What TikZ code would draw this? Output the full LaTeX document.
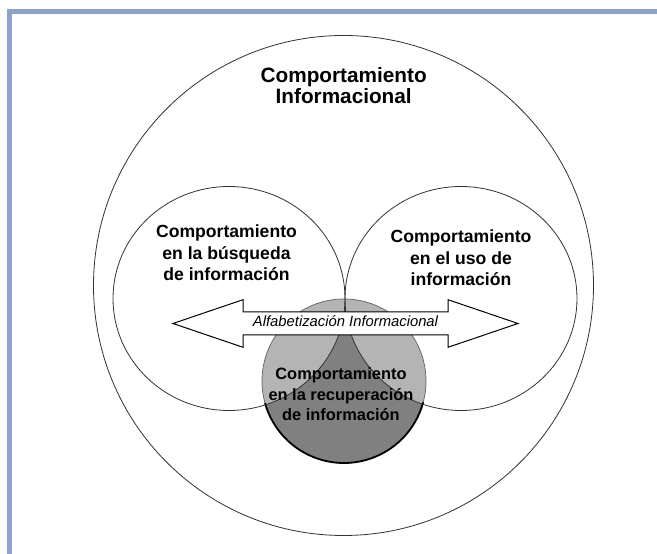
\documentclass[tikz,border=0pt]{standalone}
\usepackage{fontspec}
\setmainfont{Liberation Sans}
\definecolor{frameblue}{HTML}{8FA3C8}
\definecolor{lightgr}{HTML}{B4B4B4}
\definecolor{darkgr}{HTML}{808080}
\begin{document}
\begin{tikzpicture}[x=1pt,y=1pt,
  outline/.style={draw=black!80, line width=0.8pt},
  lbl/.style={align=center, inner sep=0pt, text=black}]
\useasboundingbox (0,0) rectangle (657,554);
\fill[white] (0,0) rectangle (657,554);
% frame
\fill[frameblue] (6.7,0) rectangle (11.7,545);
\fill[frameblue] (6.7,540) rectangle (657,545);
% outer circle
\draw[outline] (343.5,268.5) circle (250);
% recovery circle
\fill[darkgr] (344,173) circle (82);
\begin{scope}
  \clip (344,173) circle (82);
  \fill[lightgr] (229,255.5) ellipse (116 and 112);
  \fill[lightgr] (461,255.5) ellipse (116 and 112);
\end{scope}
\draw[draw=black!60, line width=0.7pt] (344,173) circle (82);
\draw[black, line width=1.8pt] (344,173) ++(195.6:82) arc (195.6:345:82);
% search and use circles
\draw[outline] (229,255.5) ellipse (116 and 112);
\draw[outline] (461,255.5) ellipse (116 and 112);
% double arrow
\draw[fill=white, draw=black, line width=1pt, line join=miter]
  (173,230.5) -- (243,254.3) -- (243,242) -- (448,242) -- (448,254.3)
  -- (518,230.5) -- (448,206.7) -- (448,219) -- (243,219) -- (243,206.7) -- cycle;
% texts
\node[lbl, font=\bfseries\fontsize{20.75}{21}\selectfont] (title) at (343.7,468.6)
  {Comportamiento\\Informacional};
\node[lbl, font=\bfseries\fontsize{17.6}{21.5}\selectfont] (busq) at (226.5,301)
  {Comportamiento\\en la búsqueda\\de información};
\node[lbl, font=\bfseries\fontsize{17.6}{21.5}\selectfont] (uso) at (461,296)
  {Comportamiento\\en el uso de\\información};
\node[lbl, font=\bfseries\fontsize{16.4}{20.3}\selectfont] (recup) at (341,159.7)
  {Comportamiento\\en la recuperación\\de información};
\node[lbl, anchor=base, font=\itshape\fontsize{14.8}{17}\selectfont] (alfa) at (345.5,227.3)
  {Alfabetización Informacional};
\end{tikzpicture}
\end{document}
